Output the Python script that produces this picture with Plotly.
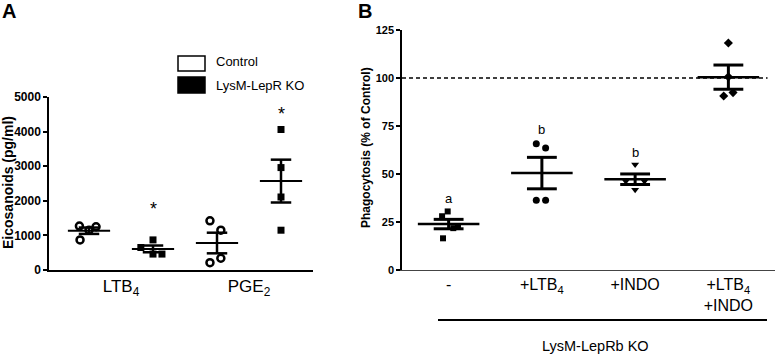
import numpy as np
import plotly.graph_objects as go

# ---------------- data ----------------
# Panel A: eicosanoids (pg/ml)
a_groups = ["Control LTB4", "KO LTB4", "Control PGE2", "KO PGE2"]
a_ctrl_ltb4 = [1270, 1150, 1250, 870]
a_ko_ltb4 = [870, 650, 460, 460]
a_ctrl_pge2 = [1420, 1150, 210, 340]
a_ko_pge2 = [4060, 2960, 2110, 1150]
a_tick_labels = ["LTB<sub>4</sub>", "PGE<sub>2</sub>"]
a_yticks = [0, 1000, 2000, 3000, 4000, 5000]

# Panel B: phagocytosis (% of control)
b_none = [30.5, 28.0, 22.8, 21.8, 16.5]
b_ltb4 = [65.7, 63.6, 36.3, 36.3]
b_indo = [54.9, 46.2, 46.2, 41.8]
b_ltb4_indo = [118.2, 100.6, 90.6, 92.4]
b_tick_labels = ["-", "+LTB<sub>4</sub>", "+INDO", "+LTB<sub>4</sub><br>+INDO"]
b_yticks = [0, 25, 50, 75, 100, 125]
b_letters = ["a", "b", "b", "c"]
b_letter_y = [37.1, 73.2, 61.0, 127.3]

# ---------------- style / layout helpers ----------------
FONT = "Liberation Sans"
W, H = 777, 355


def px(xp):
    return xp / W


def py(yp):
    return 1 - yp / H


a_jitter = [[-0.15, 0.0, 0.11, -0.14], [0.0, -0.19, 0.0, 0.14],
            [-0.11, 0.06, -0.11, 0.06], [0, 0, 0, 0]]
b_jitter = [[-0.01, -0.07, 0.10, 0.05, -0.06], [-0.06, 0.04, -0.06, 0.04],
            [0.0, -0.10, 0.10, 0.0], [0.0, 0.0, -0.05, 0.05]]

fig = go.Figure()


def add_group(xc, vals, jit, marker, xa, ya, mean_hw=0.33, cap_hw=0.16,
              lw_mean=2, lw_err=2.5):
    vals = np.array(vals, dtype=float)
    m = vals.mean()
    sem = vals.std(ddof=1) / np.sqrt(len(vals))
    fig.add_trace(go.Scatter(
        x=[xc - mean_hw, xc + mean_hw], y=[m, m], mode="lines",
        line=dict(color="black", width=lw_mean), xaxis=xa, yaxis=ya,
        showlegend=False, hoverinfo="skip"))
    fig.add_trace(go.Scatter(
        x=[xc, xc, None, xc - cap_hw, xc + cap_hw, None, xc - cap_hw, xc + cap_hw],
        y=[m - sem, m + sem, None, m + sem, m + sem, None, m - sem, m - sem],
        mode="lines", line=dict(color="black", width=lw_err),
        xaxis=xa, yaxis=ya, showlegend=False, hoverinfo="skip"))
    fig.add_trace(go.Scatter(
        x=[xc + j for j in jit], y=vals, mode="markers", marker=marker,
        xaxis=xa, yaxis=ya, showlegend=False, cliponaxis=False))


open_circ = dict(symbol="circle-open", size=7, color="black", line=dict(width=2.5, color="black"))
sq_a = dict(symbol="square", size=7, color="black")

a_data = [a_ctrl_ltb4, a_ko_ltb4, a_ctrl_pge2, a_ko_pge2]
a_markers = [open_circ, sq_a, open_circ, sq_a]
for i, (vals, mk) in enumerate(zip(a_data, a_markers)):
    add_group(i + 1, vals, a_jitter[i], mk, "x", "y")

b_data = [b_none, b_ltb4, b_indo, b_ltb4_indo]
b_markers = [dict(symbol="square", size=6, color="black"),
             dict(symbol="circle", size=7, color="black"),
             dict(symbol="triangle-down", size=7, color="black"),
             dict(symbol="diamond", size=7, color="black")]
for i, (vals, mk) in enumerate(zip(b_data, b_markers)):
    add_group(i + 1, vals, b_jitter[i], mk, "x2", "y2", lw_mean=2.5, lw_err=3)

# dashed 100% line
fig.add_trace(go.Scatter(x=[0.5, 4.42], y=[100, 100], mode="lines",
                         line=dict(color="black", width=1.5, dash="4px,3px"),
                         xaxis="x2", yaxis="y2", showlegend=False, hoverinfo="skip"))

# axes
ax_common = dict(showgrid=False, zeroline=False, linecolor="black", linewidth=1.5,
                 ticks="outside", tickcolor="black", ticklen=4, tickwidth=1.5,
                 automargin=False)
fig.update_layout(
    template="none",
    width=W, height=H, margin=dict(l=0, r=0, t=0, b=0, pad=0),
    plot_bgcolor="white", paper_bgcolor="white", showlegend=False,
    font=dict(family=FONT, size=12, color="black"),
    xaxis=dict(domain=[px(49), px(313)], range=[0.375, 4.5], showgrid=False,
               zeroline=False, showline=True, linecolor="black", linewidth=1.5,
               ticks="", tickvals=[1.5, 3.5], ticktext=a_tick_labels, automargin=False,
               tickfont=dict(family=FONT, size=17, color="black"), anchor="y"),
    yaxis=dict(domain=[py(270), py(97)], range=[0, 5000], tickvals=a_yticks,
               showline=True, anchor="x",
               tickfont=dict(family=FONT, size=12, color="black", weight="bold"), **ax_common),
    xaxis2=dict(domain=[px(402), px(775)], range=[0.5, 4.5], showgrid=False,
                zeroline=False, showline=True, linecolor="#444", linewidth=1,
                ticks="", tickvals=[1, 2, 3, 4], ticktext=b_tick_labels, automargin=False,
                tickfont=dict(family=FONT, size=16, color="black"), anchor="y2"),
    yaxis2=dict(domain=[py(270), py(30)], range=[0, 125], tickvals=b_yticks,
                showline=True, anchor="x2",
                tickfont=dict(family=FONT, size=11, color="black", weight="bold"), **ax_common),
)

ann = []
# panel letters
ann.append(dict(text="A", x=px(0), y=py(11), xref="paper", yref="paper",
                xanchor="left", yanchor="middle", showarrow=False,
                font=dict(family=FONT, size=20, color="black", weight="bold")))
ann.append(dict(text="B", x=px(356), y=py(11), xref="paper", yref="paper",
                xanchor="left", yanchor="middle", showarrow=False,
                font=dict(family=FONT, size=20, color="black", weight="bold")))
# y titles
ann.append(dict(text="Eicosanoids (pg/ml)", x=px(8), y=py(183), xref="paper", yref="paper",
                xanchor="center", yanchor="middle", textangle=-90, showarrow=False,
                font=dict(family=FONT, size=14, color="black", weight="bold")))
ann.append(dict(text="Phagocytosis (% of Control)", x=px(366), y=py(148), xref="paper", yref="paper",
                xanchor="center", yanchor="middle", textangle=-90, showarrow=False,
                font=dict(family=FONT, size=12, color="black", weight="bold")))
# asterisks
ann.append(dict(text="*", x=2, y=1750, xref="x", yref="y", showarrow=False,
                font=dict(family=FONT, size=18, color="black")))
ann.append(dict(text="*", x=4, y=4500, xref="x", yref="y", showarrow=False,
                font=dict(family=FONT, size=18, color="black")))
# letters in B
for i, (t, yv) in enumerate(zip(b_letters, b_letter_y)):
    ann.append(dict(text=t, x=i + 1, y=yv, xref="x2", yref="y2", showarrow=False,
                    font=dict(family=FONT, size=13, color="black")))
# legend A
ann.append(dict(text="Control", x=px(214), y=py(62), xref="paper", yref="paper",
                xanchor="left", yanchor="middle", showarrow=False, font=dict(family=FONT, size=13, color="black")))
ann.append(dict(text="LysM-LepR KO", x=px(214), y=py(85), xref="paper", yref="paper",
                xanchor="left", yanchor="middle", showarrow=False, font=dict(family=FONT, size=13, color="black")))
# group label B
ann.append(dict(text="LysM-LepRb KO", x=px(595), y=py(346), xref="paper", yref="paper",
                xanchor="center", yanchor="middle",
                showarrow=False, font=dict(family=FONT, size=14.5, color="black")))
fig.update_layout(annotations=ann)

shapes = [
    dict(type="rect", x0=px(178), x1=px(205), y0=py(71), y1=py(56), xref="paper", yref="paper",
         line=dict(color="black", width=1.5), fillcolor="white"),
    dict(type="rect", x0=px(178), x1=px(205), y0=py(93), y1=py(77), xref="paper", yref="paper",
         line=dict(color="black", width=1.5), fillcolor="black"),
    dict(type="line", x0=px(438), x1=px(767), y0=py(320), y1=py(320), xref="paper", yref="paper",
         line=dict(color="black", width=2)),
]
fig.update_layout(shapes=shapes)

# remove the default page margin so the figure sits at the window's top-left corner
fig.write_html("out.html", config={"displayModeBar": False},
               post_script="document.body.style.margin='0';document.body.style.overflow='hidden';")
